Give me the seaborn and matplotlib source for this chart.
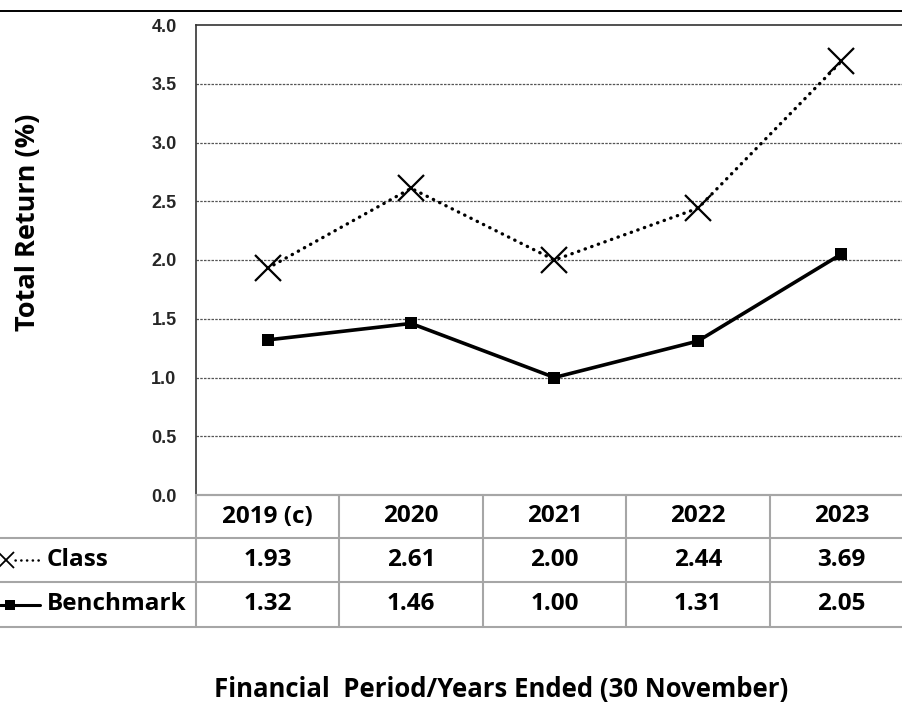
import numpy as np
import pandas as pd
import matplotlib.pyplot as plt
import seaborn as sns
from matplotlib.lines import Line2D

# Chart data
periods = ['2019 (c)', '2020', '2021', '2022', '2023']
class_returns = [1.93, 2.61, 2.00, 2.44, 3.69]
benchmark_returns = [1.32, 1.46, 1.00, 1.31, 2.05]
series_names = ['Class', 'Benchmark']
y_ticks = [0.0, 0.5, 1.0, 1.5, 2.0, 2.5, 3.0, 3.5, 4.0]

sns.set_theme(style='white')
plt.rcParams['font.family'] = ['Open Sans', 'DejaVu Sans']

W, H = 903, 706
fig = plt.figure(figsize=(W / 100, H / 100), dpi=100)


def fx(x):
    return x / W


def fy(y):
    return 1 - y / H


# plot area in pixel terms (right edge runs past the figure, as in the original)
left, top, right, bottom = 196, 25, 913, 495
ax = fig.add_axes([fx(left), fy(bottom), (right - left) / W, (bottom - top) / H])

pos = np.arange(len(periods))
df = pd.DataFrame({'pos': pos, 'Class': class_returns, 'Benchmark': benchmark_returns})

sns.lineplot(data=df, x='pos', y='Class', ax=ax, color='black', linestyle=(0, (0.1, 2.0)),
             lw=2.4, marker='x', markersize=19, markeredgewidth=1.6,
             markeredgecolor='black', dash_capstyle='round')
sns.lineplot(data=df, x='pos', y='Benchmark', ax=ax, color='black', lw=2.6,
             marker='s', markersize=9, markeredgewidth=0, markeredgecolor='black')

ax.set_xlim(-0.5, len(periods) - 0.5)
ax.set_ylim(0, 4)
ax.set_xticks([])
ax.set_yticks(y_ticks)
ax.set_yticklabels([f'{t:.1f}' for t in y_ticks], fontfamily='Liberation Sans',
                   fontweight='bold', fontsize=13)
ax.tick_params(axis='y', length=0, pad=14)
ax.set_xlabel('')
ax.set_ylabel('')
for t in y_ticks[1:-1]:
    ax.axhline(t, color='#555555', lw=0.9, ls=(0, (2, 1)), zorder=0)
for side in ['left', 'top']:
    ax.spines[side].set_color('#333333')
    ax.spines[side].set_linewidth(1.2)
ax.spines['bottom'].set_color('#a6a6a6')
ax.spines['bottom'].set_linewidth(1.5)
ax.spines['right'].set_visible(False)

# y-axis title
fig.text(fx(28), fy(222), 'Total Return (%)', rotation=90, ha='center', va='center',
         fontsize=19.5, fontweight='bold', color='black')

# top rule
fig.add_artist(Line2D([0, 1], [fy(11), fy(11)], color='black', lw=1.4))

# data table
grid_c = '#a6a6a6'
row_edges = [495, 538, 582, 627]
col_w = (right - left) / len(periods)
col_edges = [left + i * col_w for i in range(len(periods) + 1)]
for i, y in enumerate(row_edges):
    x0 = left if i == 0 else 0
    fig.add_artist(Line2D([fx(x0), 1.02], [fy(y), fy(y)], color=grid_c, lw=1.5))
for x in col_edges[:-1]:
    fig.add_artist(Line2D([fx(x), fx(x)], [fy(row_edges[0]), fy(row_edges[-1])],
                          color=grid_c, lw=1.5))

rows = [periods, [f'{v:.2f}' for v in class_returns], [f'{v:.2f}' for v in benchmark_returns]]
for r, vals in enumerate(rows):
    yc = (row_edges[r] + row_edges[r + 1]) / 2
    for c, v in enumerate(vals):
        xc = (col_edges[c] + col_edges[c + 1]) / 2
        fig.text(fx(xc), fy(yc), v, ha='center', va='center', fontsize=17.5,
                 fontweight='bold', color='black')

# row labels with legend keys
y_class = (row_edges[1] + row_edges[2]) / 2
y_bench = (row_edges[2] + row_edges[3]) / 2
fig.add_artist(Line2D([fx(15), fx(40)], [fy(y_class), fy(y_class)], color='black', lw=1.8,
                      ls=(0, (0.1, 2.2)), dash_capstyle='round'))
fig.add_artist(Line2D([fx(6)], [fy(y_class)], color='black', marker='x', markersize=11,
                      markeredgewidth=1.3, ls='none'))
fig.add_artist(Line2D([0, fx(40)], [fy(y_bench), fy(y_bench)], color='black', lw=2.2))
fig.add_artist(Line2D([fx(10)], [fy(y_bench)], color='black', marker='s', markersize=7,
                      markeredgewidth=0, ls='none'))
fig.text(fx(47), fy(y_class), series_names[0], ha='left', va='center', fontsize=17.5,
         fontweight='bold', color='black')
fig.text(fx(47), fy(y_bench), series_names[1], ha='left', va='center', fontsize=17.5,
         fontweight='bold', color='black')

# x-axis title
fig.text(fx(501), fy(690), 'Financial  Period/Years Ended (30 November)', ha='center',
         va='center', fontsize=18.5, fontweight='bold', color='black')

fig.savefig('out.png', dpi=100)
